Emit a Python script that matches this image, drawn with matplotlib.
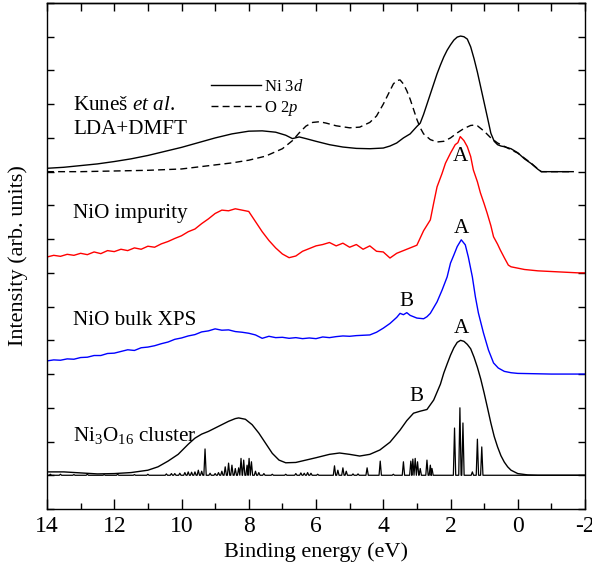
import numpy as np
import matplotlib
matplotlib.use("Agg")
import matplotlib.pyplot as plt

SERIF = 'Liberation Serif'
plt.rcParams['font.family'] = 'serif'
plt.rcParams['font.serif'] = [SERIF, 'DejaVu Serif']
plt.rcParams['mathtext.fontset'] = 'custom'
plt.rcParams['mathtext.rm'] = SERIF
plt.rcParams['mathtext.it'] = SERIF + ':italic'
plt.rcParams['axes.unicode_minus'] = False

# ---------------- data (binding energy in eV, intensity in arb. units, offsets included) ----------
# Kunes et al. LDA+DMFT : Ni 3d
ni3d_e = [14.0, 13.5, 13.0, 12.5, 12.0, 11.5, 11.0, 10.5, 10.0, 9.5, 9.0, 8.5, 8.0, 7.6, 7.2, 6.9,
          6.7, 6.5, 6.3, 6.0, 5.6, 5.2, 4.8, 4.4, 4.0, 3.8, 3.6, 3.4, 3.2, 3.0, 2.9, 2.8, 2.7, 2.6,
          2.5, 2.4, 2.3, 2.2, 2.1, 2.0, 1.9, 1.8, 1.7, 1.6, 1.5, 1.4, 1.3, 1.2, 1.1, 1.0, 0.9, 0.8,
          0.7, 0.6, 0.5, 0.4, 0.2, 0.0, -0.2, -0.4, -0.6, -0.7, -1.0, -1.65]
ni3d_i = [10.10, 10.13, 10.18, 10.23, 10.30, 10.38, 10.48, 10.60, 10.72, 10.86, 11.00, 11.12, 11.20,
          11.21, 11.17, 11.08, 10.98, 11.03, 10.98, 10.90, 10.80, 10.73, 10.69, 10.68, 10.70, 10.76,
          10.85, 11.00, 11.12, 11.34, 11.44, 11.70, 12.00, 12.30, 12.60, 12.90, 13.16, 13.40, 13.60,
          13.76, 13.90, 13.99, 14.02, 14.00, 13.93, 13.70, 13.35, 12.95, 12.50, 12.05, 11.60, 11.14,
          10.90, 10.80, 10.76, 10.74, 10.68, 10.56, 10.38, 10.24, 10.07, 10.00, 10.00, 10.00]

# Kunes et al. LDA+DMFT : O 2p
o2p_e = [14.0, 13.0, 12.0, 11.0, 10.0, 9.5, 9.0, 8.5, 8.0, 7.5, 7.0, 6.7, 6.5, 6.3, 6.1, 5.9, 5.7,
         5.4, 5.0, 4.7, 4.4, 4.2, 4.0, 3.8, 3.7, 3.6, 3.5, 3.4, 3.3, 3.2, 3.1, 3.0, 2.9, 2.8, 2.6,
         2.4, 2.2, 2.0, 1.8, 1.6, 1.4, 1.3, 1.2, 1.0, 0.8, 0.6, 0.4, 0.2, 0.0, -0.2, -0.4, -0.6,
         -0.7, -1.0, -1.65]
o2p_i = [10.00, 10.00, 10.02, 10.04, 10.08, 10.14, 10.20, 10.26, 10.34, 10.46, 10.68, 10.92, 11.15,
         11.35, 11.46, 11.48, 11.44, 11.36, 11.30, 11.32, 11.46, 11.65, 12.00, 12.40, 12.60, 12.70,
         12.72, 12.60, 12.40, 12.15, 11.85, 11.55, 11.30, 11.12, 10.95, 10.88, 10.90, 11.00, 11.15,
         11.28, 11.37, 11.38, 11.36, 11.20, 11.00, 10.85, 10.75, 10.65, 10.55, 10.40, 10.25, 10.08,
         10.00, 10.00, 10.00]

# NiO impurity (red)
imp_e = [14.0, 13.8, 13.6, 13.4, 13.2, 13.0, 12.8, 12.6, 12.4, 12.2, 12.0, 11.8, 11.6, 11.4, 11.2,
         11.0, 10.8, 10.6, 10.4, 10.2, 10.0, 9.8, 9.6, 9.4, 9.2, 9.0, 8.8, 8.6, 8.4, 8.2, 8.0, 7.8,
         7.6, 7.4, 7.2, 7.0, 6.8, 6.6, 6.4, 6.2, 6.0, 5.8, 5.6, 5.4, 5.2, 5.0, 4.8, 4.6, 4.4, 4.2,
         4.0, 3.8, 3.6, 3.4, 3.2, 3.0, 2.8, 2.6, 2.5, 2.4, 2.25, 2.15, 2.0, 1.86, 1.78, 1.71, 1.6,
         1.5, 1.4, 1.32, 1.2, 1.11, 1.0, 0.91, 0.8, 0.72, 0.6, 0.52, 0.4, 0.28, 0.2, 0.0, -0.2,
         -0.4, -0.6, -0.8, -1.0, -1.2, -1.4, -1.6, -1.8, -2.0]
imp_i = [7.47, 7.52, 7.49, 7.55, 7.52, 7.58, 7.54, 7.62, 7.57, 7.66, 7.63, 7.70, 7.66, 7.74, 7.70,
         7.79, 7.76, 7.86, 7.93, 8.02, 8.10, 8.22, 8.30, 8.46, 8.60, 8.76, 8.86, 8.84, 8.90, 8.86,
         8.82, 8.52, 8.22, 7.96, 7.74, 7.56, 7.45, 7.50, 7.64, 7.72, 7.80, 7.84, 7.90, 7.80, 7.88,
         7.76, 7.84, 7.70, 7.80, 7.64, 7.62, 7.44, 7.58, 7.66, 7.74, 7.82, 8.25, 8.57, 9.07, 9.55,
         9.95, 10.25, 10.55, 10.80, 10.86, 11.04, 10.92, 10.74, 10.45, 10.05, 9.70, 9.37, 9.05,
         8.77, 8.40, 8.07, 7.85, 7.68, 7.45, 7.23, 7.18, 7.14, 7.10, 7.08, 7.06, 7.05, 7.04, 7.03,
         7.02, 7.01, 7.00, 7.00]

# NiO bulk XPS (blue)
xps_e = [14.0, 13.8, 13.6, 13.4, 13.2, 13.0, 12.8, 12.6, 12.4, 12.2, 12.0, 11.8, 11.6, 11.4, 11.2,
         11.0, 10.8, 10.6, 10.4, 10.2, 10.0, 9.8, 9.6, 9.4, 9.2, 9.0, 8.8, 8.6, 8.4, 8.2, 8.0, 7.8,
         7.6, 7.4, 7.2, 7.0, 6.8, 6.6, 6.4, 6.2, 6.0, 5.8, 5.6, 5.4, 5.2, 5.0, 4.8, 4.6, 4.4, 4.2,
         4.0, 3.8, 3.6, 3.5, 3.4, 3.3, 3.2, 3.0, 2.8, 2.7, 2.6, 2.4, 2.25, 2.1, 2.0, 1.9, 1.8,
         1.68, 1.56, 1.47, 1.35, 1.26, 1.17, 1.02, 0.87, 0.72, 0.58, 0.4, 0.2, 0.0, -0.5, -1.0, -2.0]
xps_i = [4.39, 4.42, 4.41, 4.45, 4.44, 4.49, 4.50, 4.55, 4.55, 4.61, 4.62, 4.67, 4.72, 4.70, 4.78,
         4.80, 4.84, 4.90, 4.95, 5.03, 5.07, 5.13, 5.17, 5.25, 5.28, 5.34, 5.30, 5.31, 5.26, 5.24,
         5.21, 5.16, 5.06, 5.12, 5.08, 5.09, 5.06, 5.08, 5.05, 5.07, 5.05, 5.10, 5.08, 5.11, 5.13,
         5.12, 5.14, 5.15, 5.16, 5.24, 5.36, 5.50, 5.68, 5.80, 5.76, 5.82, 5.74, 5.66, 5.64, 5.70,
         5.80, 6.14, 6.49, 6.88, 7.29, 7.53, 7.78, 7.98, 7.83, 7.47, 6.88, 6.29, 5.81, 5.22, 4.71,
         4.33, 4.18, 4.08, 4.04, 4.02, 4.01, 4.00, 4.00]

# Ni3O16 cluster : broadened spectrum
clu_e = [14.0, 13.5, 13.0, 12.5, 12.0, 11.5, 11.0, 10.7, 10.4, 10.1, 9.8, 9.6, 9.4, 9.2, 9.0, 8.8,
         8.6, 8.4, 8.3, 8.1, 7.9, 7.7, 7.5, 7.3, 7.1, 6.9, 6.6, 6.3, 6.0, 5.6, 5.3, 5.0, 4.7, 4.4,
         4.1, 3.8, 3.5, 3.3, 3.1, 2.9, 2.7, 2.5, 2.3, 2.2, 2.1, 2.0, 1.9, 1.8, 1.7, 1.6, 1.5, 1.4,
         1.3, 1.2, 1.1, 1.0, 0.9, 0.8, 0.7, 0.6, 0.5, 0.4, 0.3, 0.2, 0.0, -0.3, -0.6, -2.0]
clu_i = [1.10, 1.10, 1.07, 1.04, 1.05, 1.08, 1.15, 1.25, 1.42, 1.62, 1.92, 2.10, 2.22, 2.30, 2.40,
         2.50, 2.60, 2.68, 2.70, 2.66, 2.50, 2.25, 1.95, 1.65, 1.45, 1.37, 1.38, 1.45, 1.52, 1.62,
         1.66, 1.62, 1.57, 1.62, 1.75, 1.98, 2.34, 2.62, 2.84, 2.90, 2.95, 3.23, 3.70, 4.03, 4.30,
         4.56, 4.78, 4.94, 5.00, 4.97, 4.88, 4.75, 4.50, 4.20, 3.85, 3.44, 3.00, 2.55, 2.15, 1.84,
         1.58, 1.39, 1.25, 1.15, 1.05, 1.01, 1.00, 1.00]

# Ni3O16 cluster : line spectrum (peak energies and heights above its baseline)
stick_base = 1.0
stick_e = [13.9, 13.6, 13.2, 12.8, 12.3, 11.9, 11.4, 11.0, 10.45, 10.3, 10.2, 10.05, 9.9, 9.8, 9.7,
           9.6, 9.5, 9.4, 9.3, 9.15, 9.0, 8.9, 8.8, 8.7, 8.6, 8.5, 8.4, 8.3, 8.23, 8.15, 8.05, 7.99,
           7.92, 7.8, 7.7, 7.55, 7.3, 6.9, 6.6, 6.45, 6.35, 6.25, 6.15, 5.95, 5.45, 5.35, 5.2, 5.1,
           4.9, 4.75, 4.48, 4.09, 3.7, 3.4, 3.18, 3.12, 3.05, 2.98, 2.9, 2.7, 2.6, 2.55, 1.88, 1.72,
           1.63, 1.35, 1.2, 1.07]
stick_h = [0.03, 0.03, 0.02, 0.03, 0.02, 0.03, 0.02, 0.03, 0.04, 0.05, 0.05, 0.06, 0.08, 0.10, 0.09,
           0.10, 0.15, 0.12, 0.78, 0.06, 0.05, 0.08, 0.12, 0.25, 0.36, 0.30, 0.20, 0.22, 0.50, 0.45,
           0.30, 0.50, 0.40, 0.12, 0.08, 0.05, 0.03, 0.03, 0.05, 0.07, 0.06, 0.08, 0.06, 0.03, 0.28,
           0.15, 0.22, 0.12, 0.04, 0.04, 0.22, 0.42, 0.03, 0.40, 0.42, 0.48, 0.50, 0.40, 0.20, 0.45,
           0.30, 0.20, 1.40, 2.00, 1.55, 0.10, 1.07, 0.84]

labels = ["Kuneš $\\mathit{et\\ al.}$", "LDA+DMFT", "NiO impurity", "NiO bulk XPS",
          "Ni$_3$O$_{16}$ cluster"]
label_y = [11.83, 11.12, 8.63, 5.46, 2.02]
peak_labels = ["A", "A", "A", "B", "B"]
peak_lab_e = [1.71, 1.68, 1.68, 3.32, 3.02]
peak_lab_y = [10.44, 8.33, 5.34, 6.15, 3.33]
legend_labels = ["Ni $\\mathit{3d}$", "O $\\mathit{2p}$"]

# ---------------- figure ----------------
fig = plt.figure(figsize=(5.92, 5.69), dpi=100)
ax = fig.add_axes([47/592, 60/569, 538/592, 506/569])

lw = 1.0
l1, = ax.plot(ni3d_e, ni3d_i, color='black', lw=lw, label=legend_labels[0])
l2, = ax.plot(o2p_e, o2p_i, color='black', lw=lw, ls=(0, (5, 3)), label=legend_labels[1])
ax.plot(imp_e, imp_i, color='#ff0000', lw=lw)
ax.plot(xps_e, xps_i, color='#0000ff', lw=lw)
ax.plot(clu_e, clu_i, color='black', lw=lw)

# line spectrum drawn as narrow spikes on its baseline
w = 0.035
se, si = [14.0], [stick_base]
for e, h in sorted(zip(stick_e, stick_h), key=lambda t: -t[0]):
    se += [e + w, e, e - w]
    si += [stick_base, stick_base + h, stick_base]
se.append(-2.0); si.append(stick_base)
ax.plot(se, si, color='black', lw=0.9)

fs = 15.2
for t, y in zip(labels, label_y):
    ax.text(13.23, y, t, fontsize=fs, va='baseline', ha='left', family=SERIF)
for t, e, y in zip(peak_labels, peak_lab_e, peak_lab_y):
    ax.text(e, y, t, fontsize=fs, va='center', ha='center', family=SERIF)

ax.legend(handles=[l1, l2], loc='center left', bbox_to_anchor=(0.305, 0.812),
          frameon=False, prop={'family': SERIF, 'size': 12}, handlelength=3.0,
          handletextpad=0.15, labelspacing=0.25, borderpad=0, borderaxespad=0)

ax.set_xlim(14, -2)
ax.set_ylim(0, 15)
ax.set_xticks(np.arange(14, -2.1, -2))
ax.set_xticklabels([f"{int(v)}" for v in np.arange(14, -2.1, -2)], family=SERIF)
ax.set_xticks(np.arange(13, -2, -2), minor=True)
ax.set_yticks(np.arange(0, 15.1, 1))
ax.set_yticklabels([])
ax.tick_params(axis='x', which='major', direction='in', length=7, width=1.0,
               labelsize=17, pad=5, top=False)
ax.tick_params(axis='x', which='minor', direction='in', length=4, width=1.0, top=False)
ax.tick_params(axis='y', direction='in', length=5, width=1.0, left=True, right=True)
sec = ax.secondary_xaxis('top')
sec.set_xticks(np.arange(14, -2.1, -1))
sec.tick_params(direction='in', length=6, width=1.0, labeltop=False)
for s in list(ax.spines.values()) + list(sec.spines.values()):
    s.set_linewidth(1.0)

ax.set_xlabel("Binding energy (eV)", fontsize=16, labelpad=4, family=SERIF)
ax.set_ylabel("Intensity (arb. units)", fontsize=16, labelpad=10, family=SERIF)

fig.savefig("out.png", dpi=100)
